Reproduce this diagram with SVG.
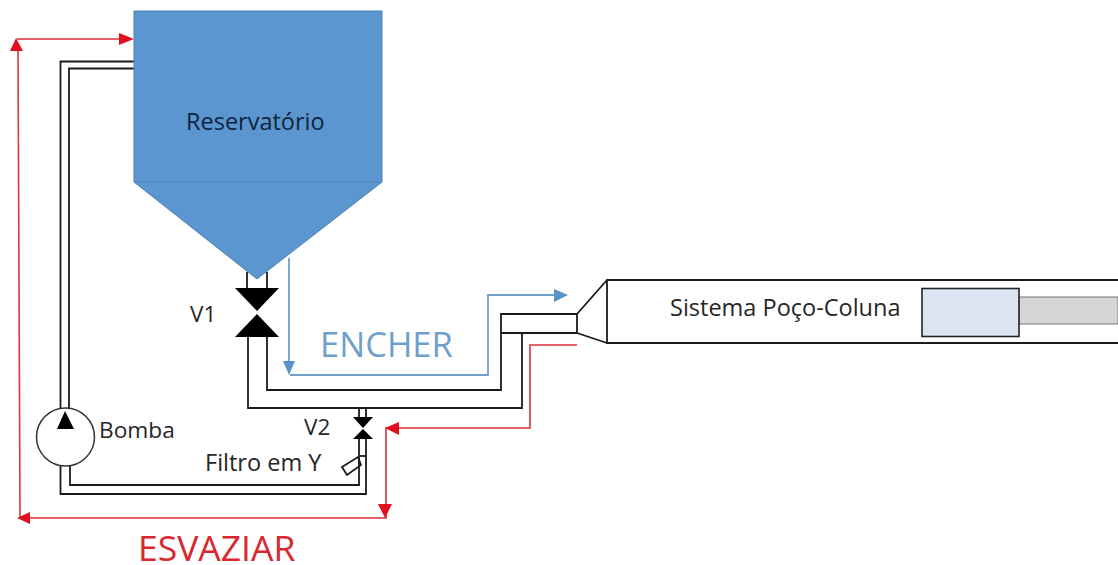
<svg xmlns="http://www.w3.org/2000/svg" width="1118" height="565" viewBox="0 0 1118 565">
<style>
.p{fill:none;stroke:#1a1a1a;stroke-width:1.800}
.k{fill:#000;stroke:none}
.red{fill:none;stroke:#e0303a;stroke-width:1.600}
.rh{fill:#e2101e;stroke:none}
.blue{fill:none;stroke:#6f9fcb;stroke-width:1.800}
.bh{fill:#5b93c8;stroke:none}
text{font-family:"Open Sans","Noto Sans","Liberation Sans",sans-serif;fill:#262626;font-size:23.500px}
</style>
<rect width="1118" height="565" fill="#fff"/>
<g id="connectors">
<path class="p" d="M134 61.500H60.500V408M134 68.500H69V408"/>
<path class="p" d="M60.500 466V494H366V439M70 466V485H359V439"/>
<path class="p" d="M359 408V417M366 408V417"/>
<path class="p" d="M248 337V408H522V333H577M267 337V390H501V314H577V333M501 333H522"/>
<path class="p" d="M247 272V289M267 272V289"/>
<path class="p" d="M359 456H366"/>
<path class="p" d="M342 467L358 457L361 465L347 475Z"/>
</g>
<g id="red-path">
<path class="red" d="M17 39H122M18 44L20 518H386V428H398M398 428H530V345H577"/>
<path class="rh" d="M16 38L10 51H23Z"/>
<path class="rh" d="M134 39L119 33V45Z"/>
<path class="rh" d="M17 518L30 512V524Z"/>
<path class="rh" d="M385 428L399 422V435Z"/>
<path class="rh" d="M385 518L378 504H392Z"/>
<text x="138" y="561" style="font-size:35.500px;fill:#d9272e">ESVAZIAR</text>
</g>
<g id="blue-path">
<path class="blue" d="M289 258V365"/>
<path class="blue" d="M290 375H488V295H556"/>
<path class="bh" d="M289 375L283 361H295Z"/>
<path class="bh" d="M568 295L554 289V302Z"/>
<text x="320" y="357" style="font-size:34.500px;fill:#6f9fcb">ENCHER</text>
</g>
<g id="reservatorio">
<path d="M134 11H382V182L257 279L134 182Z" fill="#5b96d0" stroke="#4d82b3" stroke-width="1"/>
<path d="M134 182H382" stroke="#4d82b3" stroke-width="1"/>
<text x="186" y="130" style="fill:#10243c">Reservatório</text>
</g>
<g id="v1">
<path class="k" d="M235 288H279L257 311Z"/>
<path class="k" d="M235 337H279L257 314Z"/>
<text x="190" y="322" style="font-size:22.500px">V1</text>
</g>
<g id="v2">
<path class="k" d="M353 417H373L363 428Z"/>
<path class="k" d="M353 439H373L363 429Z"/>
<text x="304" y="435" style="font-size:22.500px">V2</text>
</g>
<g id="filtro">
<text x="205" y="471">Filtro em Y</text>
</g>
<g id="bomba">
<circle cx="65.500" cy="437" r="29" fill="#fff" stroke="#333" stroke-width="1.500"/>
<path class="k" d="M65 411L74 429H57Z"/>
<text x="99" y="438" style="font-size:22.700px">Bomba</text>
</g>
<g id="sistema">
<path class="p" d="M1118 280H607V343H1118M577 314L607 280M577 333L607 343"/>
<rect x="1019" y="297" width="99" height="27" fill="#d6d6d6" stroke="#777" stroke-width="1"/>
<rect x="922" y="288.500" width="97" height="48" fill="#dce6f3" stroke="#222" stroke-width="1.600"/>
<text x="670" y="316">Sistema Poço-Coluna</text>
</g>
</svg>
